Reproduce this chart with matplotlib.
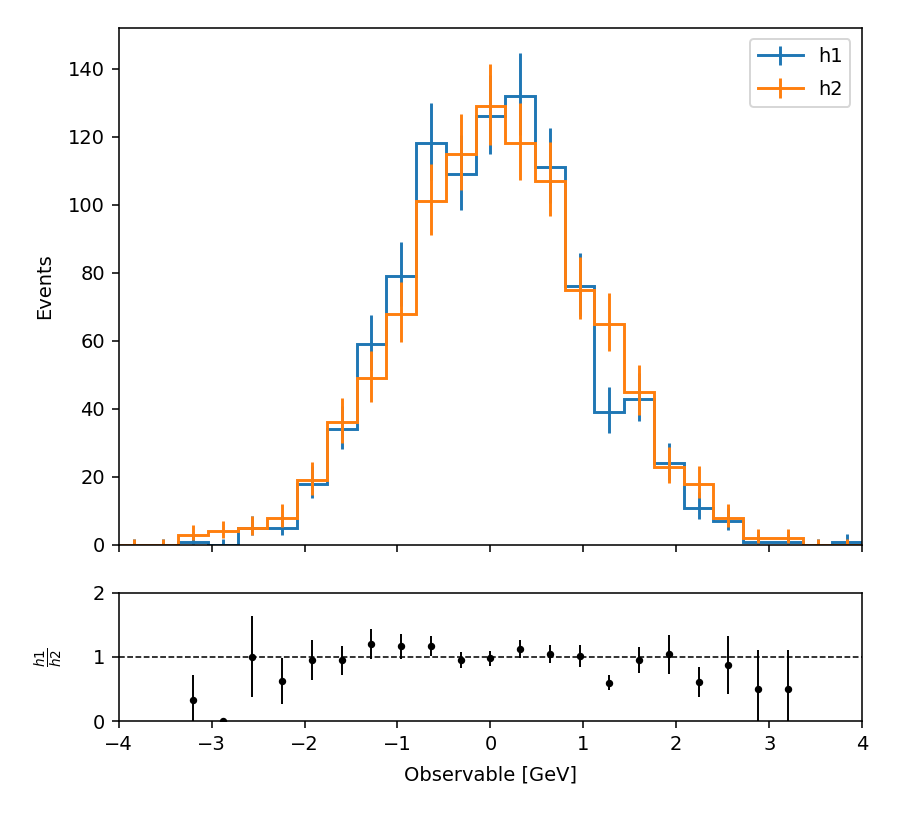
import math
import numpy as np
import matplotlib
matplotlib.use("Agg")
import matplotlib.pyplot as plt
from matplotlib.lines import Line2D

# binning: 25 bins from -4 to 4
edges = np.linspace(-4, 4, 26)
centers = 0.5 * (edges[:-1] + edges[1:])

h1 = [0, 0, 1, 0, 5, 5, 18, 34, 59, 79, 118, 109, 126, 132, 111, 76, 39, 43, 24, 11, 7, 1, 1, 0, 1]
h2 = [0, 0, 3, 4, 5, 8, 19, 36, 49, 68, 101, 115, 129, 118, 107, 75, 65, 45, 23, 18, 8, 2, 2, 0, 0]


def pois_cdf(k, mu):
    if mu <= 0:
        return 1.0
    s = 0.0
    for i in range(k + 1):
        s += math.exp(i * math.log(mu) - mu - math.lgamma(i + 1))
    return s


def poisson_err(counts, cl=0.682689):
    a = (1 - cl) / 2
    lo, hi = [], []
    for n in counts:
        # upper limit
        l, r = float(n), n + 10 * math.sqrt(n + 1) + 10
        for _ in range(80):
            m = 0.5 * (l + r)
            if pois_cdf(n, m) > a:
                l = m
            else:
                r = m
        up = 0.5 * (l + r)
        if n == 0:
            dn = 0.0
        else:
            l, r = 0.0, float(n)
            for _ in range(80):
                m = 0.5 * (l + r)
                if 1 - pois_cdf(n - 1, m) < a:
                    l = m
                else:
                    r = m
            dn = n - 0.5 * (l + r)
        lo.append(dn)
        hi.append(up - n)
    return np.array([lo, hi])


DPI = 140
fig = plt.figure(figsize=(899 / DPI, 817 / DPI), dpi=DPI)
ax = fig.add_axes([0.132, 0.333, 0.827, 0.633])
rax = fig.add_axes([0.132, 0.1175, 0.827, 0.157], sharex=ax)

handles = []
for vals, name, col in [(h1, "h1", "#1f77b4"), (h2, "h2", "#ff7f0e")]:
    vals = np.array(vals, dtype=float)
    ax.stairs(vals, edges, color=col, lw=1.5)
    eb = ax.errorbar(centers, vals, yerr=poisson_err(vals.astype(int)),
                     fmt="none", ecolor=col, elinewidth=1.5)
    handles.append((Line2D([], [], color=col, lw=1.5), eb))

ax.legend(handles, ["h1", "h2"], loc="upper right", handlelength=2.3,
          labelspacing=0.7, borderaxespad=0.6)
ax.set_ylabel("Events", labelpad=7)
ax.set_xlim(-4, 4)
ax.set_ylim(0, 152)
ax.tick_params(labelbottom=False)

# ratio panel
a1 = np.array(h1, dtype=float)
a2 = np.array(h2, dtype=float)
with np.errstate(divide="ignore", invalid="ignore"):
    ratio = np.where(a2 > 0, a1 / a2, np.nan)
    rerr = np.where(a1 > 0, ratio * np.sqrt(1 / a1 + 1 / a2), 0)
rax.errorbar(centers, ratio, yerr=rerr, fmt="o", color="black", ms=2.8,
             elinewidth=1.0)
rax.axhline(1, color="black", ls="--", lw=0.8)
rax.set_ylim(0, 2)
rax.set_yticks([0, 1, 2])
rax.set_xlim(-4, 4)
rax.set_ylabel(r"$\frac{h1}{h2}$", labelpad=14)
rax.set_xlabel("Observable [GeV]", labelpad=6)

fig.savefig("out.png", dpi=DPI)
